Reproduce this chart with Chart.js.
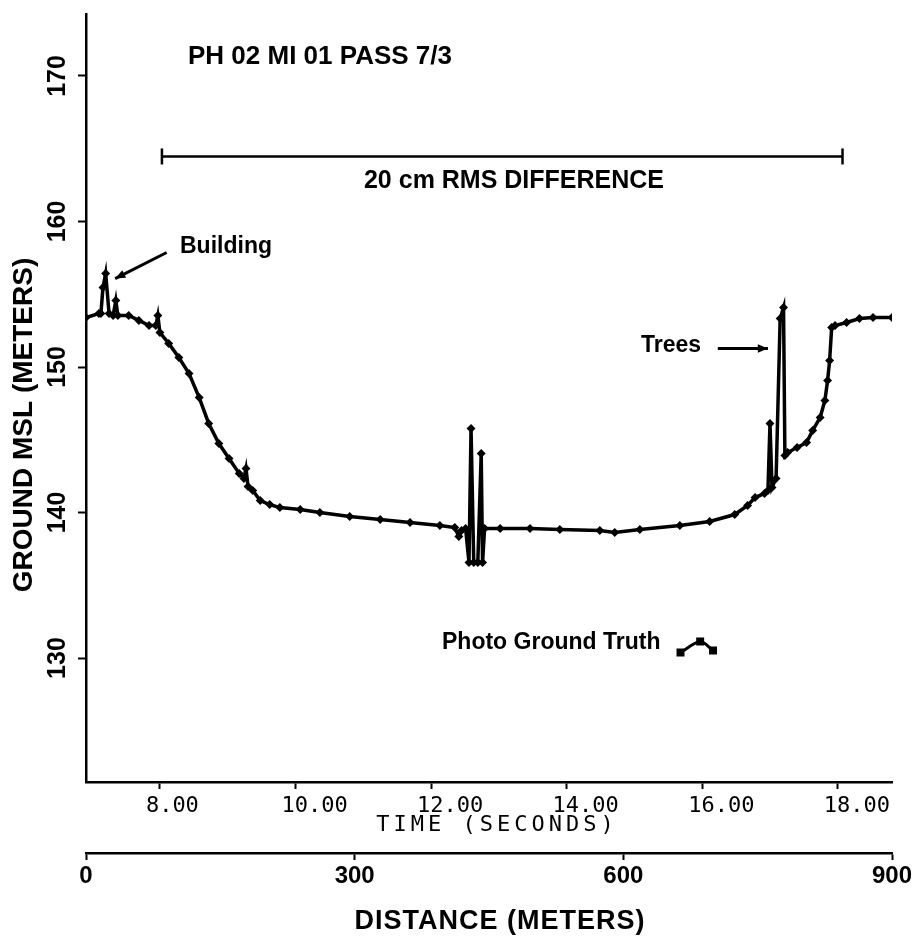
<!DOCTYPE html>
<html>
<head>
<meta charset="utf-8">
<script src="https://cdn.jsdelivr.net/npm/chart.js@4.4.1/dist/chart.umd.min.js"></script>
<style>
  html, body { margin: 0; padding: 0; background: #fff; }
</style>
</head>
<body>
<canvas id="myChart" width="917" height="941"></canvas>
<script>
const timeSec = [6.91, 7.10, 7.13, 7.16, 7.20, 7.25, 7.31, 7.35, 7.38, 7.54, 7.69, 7.84, 7.94, 7.97, 8.00,
  8.13, 8.28, 8.43, 8.58, 8.72, 8.87, 9.02, 9.17, 9.24, 9.27, 9.30, 9.37, 9.48, 9.62, 9.77,
  10.07, 10.36, 10.80, 11.25, 11.69, 12.13, 12.35, 12.41, 12.45, 12.51, 12.56, 12.59, 12.63, 12.69, 12.74,
  12.76, 12.79, 13.02, 13.46, 13.90, 14.49, 14.71, 15.08, 15.67, 16.11, 16.48, 16.67, 16.78, 16.92, 16.97,
  17.00, 17.03, 17.09, 17.15, 17.20, 17.22, 17.26, 17.40, 17.54, 17.63, 17.74, 17.81, 17.85, 17.88, 17.91,
  17.96, 18.13, 18.32, 18.52, 18.80];
const groundMsl = [153.40, 153.68, 153.68, 155.46, 156.43, 153.68, 153.54, 154.57, 153.54, 153.54, 153.20, 152.85, 152.85, 153.54, 152.37,
  151.62, 150.65, 149.55, 147.90, 146.12, 144.74, 143.71, 142.68, 142.34, 143.02, 141.79, 141.51, 140.82, 140.55, 140.34,
  140.21, 140.00, 139.73, 139.52, 139.31, 139.11, 138.97, 138.35, 138.76, 138.90, 136.56, 145.77, 136.56, 136.56, 144.05,
  136.56, 138.90, 138.90, 138.90, 138.83, 138.76, 138.63, 138.83, 139.11, 139.38, 139.86, 140.48, 141.03, 141.31, 141.51,
  146.12, 141.72, 142.34, 153.33, 154.09, 143.92, 144.12, 144.47, 144.81, 145.64, 146.53, 147.70, 149.07, 150.45, 152.71,
  152.85, 153.06, 153.33, 153.40, 153.40];

const yTicks = [130, 140, 150, 160, 170];
const timeTicks = [8, 10, 12, 14, 16, 18];
const distTicks = [0, 300, 600, 900];

// the "20 cm RMS DIFFERENCE" bracket (time span, height)
const rmsSpan = [8.03, 18.07];
const rmsLevel = 164.47;

// little sample line next to "Photo Ground Truth"
const keyTime = [15.68, 15.97, 16.16];
const keyMsl = [130.38, 131.13, 130.52];

const pts = (xs, ys) => xs.map((v, i) => ({x: v, y: ys[i]}));

// ........ texts and arrows drawn on top ........
function arrow(ctx, x1, y1, x2, y2, head) {
    ctx.beginPath();
    ctx.moveTo(x1, y1);
    ctx.lineTo(x2, y2);
    ctx.stroke();
    const a = Math.atan2(y2 - y1, x2 - x1);
    ctx.beginPath();
    ctx.moveTo(x2, y2);
    ctx.lineTo(x2 - head * Math.cos(a - 0.4), y2 - head * Math.sin(a - 0.4));
    ctx.lineTo(x2 - head * Math.cos(a + 0.4), y2 - head * Math.sin(a + 0.4));
    ctx.closePath();
    ctx.fill();
}

const notes = {
    id: 'notes',
    afterDraw(chart) {
        const {ctx, scales: {x, y}} = chart;
        const sans = '"Liberation Sans", Arial, sans-serif';
        ctx.save();
        ctx.fillStyle = '#000';
        ctx.strokeStyle = '#000';
        ctx.textBaseline = 'middle';

        ctx.textAlign = 'left';
        ctx.font = 'bold 26px ' + sans;
        ctx.fillText('PH 02 MI 01 PASS 7/3', 188, 57);

        ctx.textAlign = 'center';
        ctx.font = 'bold 25px ' + sans;
        ctx.fillText('20 cm RMS DIFFERENCE', 514, 181);

        ctx.textAlign = 'left';
        ctx.font = 'bold 23px ' + sans;
        ctx.fillText('Building', 180, 247);
        ctx.fillText('Trees', 641, 346);
        ctx.fillText('Photo Ground Truth', 442, 643);

        // arrows
        ctx.lineWidth = 3;
        arrow(ctx, x.getPixelForValue(8.10), y.getPixelForValue(157.87),
                   x.getPixelForValue(7.34), y.getPixelForValue(156.08), 11);
        arrow(ctx, x.getPixelForValue(16.23), y.getPixelForValue(151.27),
                   x.getPixelForValue(16.97), y.getPixelForValue(151.27), 11);

        // axis titles
        ctx.save();
        ctx.translate(24, 425);
        ctx.rotate(-Math.PI / 2);
        ctx.textAlign = 'center';
        ctx.font = 'bold 28px ' + sans;
        ctx.fillText('GROUND MSL (METERS)', 0, 0);
        ctx.restore();

        ctx.textAlign = 'center';
        ctx.font = '22px "DejaVu Sans Mono", monospace';
        ctx.letterSpacing = '4px';
        ctx.fillText('TIME (SECONDS)', 497, 825);
        ctx.letterSpacing = '1px';
        ctx.font = 'bold 27px ' + sans;
        ctx.fillText('DISTANCE (METERS)', 500, 922);
        ctx.restore();
    }
};

const ctx = document.getElementById('myChart').getContext('2d');
const chart = new Chart(ctx, {
    type: 'line',
    data: {
        datasets: [{
            label: 'RMS',
            data: pts(rmsSpan, [rmsLevel, rmsLevel]),
            borderColor: '#000',
            borderWidth: 2.5,
            pointStyle: 'line',
            rotation: 90,
            pointRadius: 8,
            pointBorderWidth: 2.5,
            pointBorderColor: '#000'
        }, {
            label: 'key',
            data: pts(keyTime, keyMsl),
            borderColor: '#000',
            borderWidth: 3,
            pointStyle: 'rect',
            pointRadius: 3.5,
            pointBackgroundColor: '#000',
            pointBorderColor: '#000',
            tension: 0.3
        }, {
            label: 'Ground MSL',
            data: pts(timeSec, groundMsl),
            borderColor: '#000',
            borderWidth: 3.5,
            pointStyle: 'rectRot',
            pointRadius: 2,
            pointBackgroundColor: '#000',
            pointBorderColor: '#000',
            tension: 0
        }]
    },
    options: {
        responsive: false,
        animation: false,
        devicePixelRatio: 1,
        layout: { padding: { left: 16, right: 25, top: 14, bottom: 28 } },
        plugins: { legend: { display: false }, tooltip: { enabled: false } },
        scales: {
            y: {
                type: 'linear',
                position: 'left',
                min: 121.48,
                max: 174.26,
                afterBuildTicks: (s) => { s.ticks = yTicks.map(v => ({value: v})); },
                afterFit: (s) => { s.width = 70; s.paddingTop = 0; s.paddingBottom = 0; },
                grid: { drawOnChartArea: false, color: '#000', tickLength: 8, tickWidth: 2 },
                border: { display: true, color: '#000', width: 2.5 },
                ticks: {
                    color: '#000',
                    minRotation: 90,
                    maxRotation: 90,
                    crossAlign: 'center',
                    padding: -1,
                    font: { family: '"Liberation Sans", Arial, sans-serif', size: 25, weight: 'bold' }
                }
            },
            x: {
                type: 'linear',
                position: 'bottom',
                weight: 0,
                min: 6.91,
                max: 18.80,
                afterBuildTicks: (s) => { s.ticks = timeTicks.map(v => ({value: v})); },
                afterFit: (s) => { s.height = 71; s.paddingLeft = 0; s.paddingRight = 0; },
                grid: { drawOnChartArea: false, color: '#000', tickLength: 7, tickWidth: 2 },
                border: { display: true, color: '#000', width: 2.5 },
                ticks: {
                    color: '#000',
                    minRotation: 0,
                    maxRotation: 0,
                    align: 'start',
                    labelOffset: -14,
                    padding: 4,
                    callback: (v) => v.toFixed(2),
                    font: { family: '"DejaVu Sans Mono", monospace', size: 22 }
                }
            },
            x2: {
                type: 'linear',
                position: 'bottom',
                weight: 1,
                min: 0,
                max: 900,
                afterBuildTicks: (s) => { s.ticks = distTicks.map(v => ({value: v})); },
                afterFit: (s) => { s.height = 60; s.paddingLeft = 0; s.paddingRight = 0; },
                grid: { drawOnChartArea: false, color: '#000', tickLength: 7, tickWidth: 2 },
                border: { display: true, color: '#000', width: 2.5 },
                ticks: {
                    color: '#000',
                    minRotation: 0,
                    maxRotation: 0,
                    padding: 2,
                    font: { family: '"Liberation Sans", Arial, sans-serif', size: 24, weight: 'bold' }
                }
            }
        }
    },
    plugins: [notes]
});
</script>
</body>
</html>
